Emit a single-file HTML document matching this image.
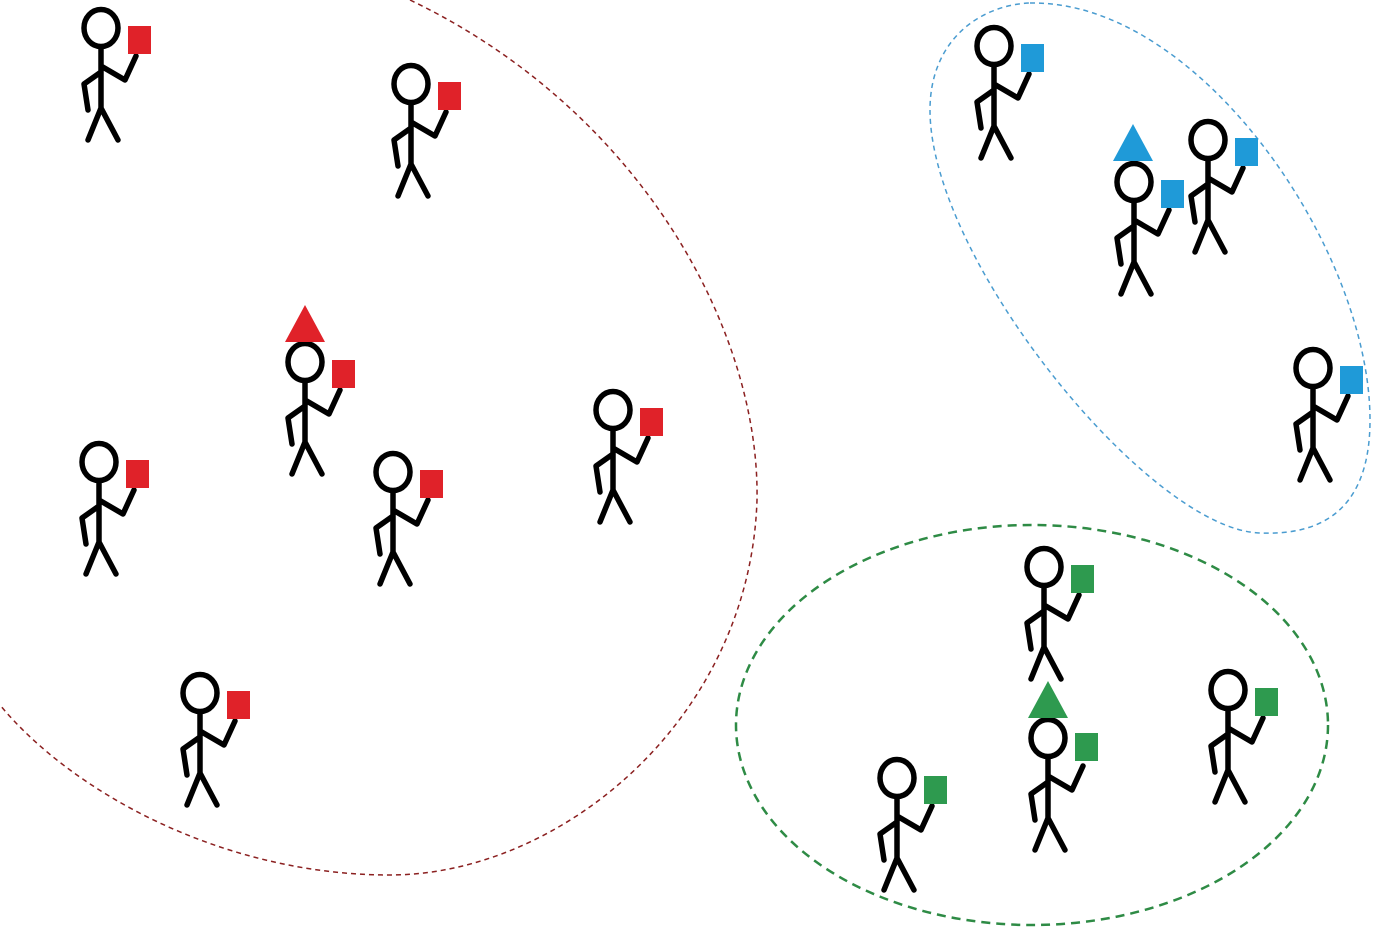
<!DOCTYPE html>
<html><head><meta charset="utf-8"><style>html,body{margin:0;padding:0;background:#fff}svg{display:block}</style></head>
<body>
<svg width="1400" height="928" viewBox="0 0 1400 928" xmlns="http://www.w3.org/2000/svg">
<defs>
<g id="man" fill="none" stroke="#000" stroke-width="5.5" stroke-linecap="round" stroke-linejoin="round">
<ellipse cx="0" cy="0" rx="17" ry="18.5"/>
<path d="M0,19 V80 M0,80 L-13,112 M0,80 L17,112 M0,38 L24,52 L35,28 M0,44 L-17,56 L-13,82"/>
</g>
</defs>
<g fill="none" stroke-dasharray="5,4" stroke-width="1.5">
<path d="M410,0 C640,110 760,330 757,500 C750,720 560,875 390,875 C220,875 70,790 0,705" stroke="#8b2020"/>
<path d="M1030,3 C1200,0 1370,250 1370,420 C1370,520 1310,535 1260,533 C1150,530 930,260 930,110 C930,40 980,5 1030,3 Z" stroke="#4a9cd0"/>
</g>
<ellipse cx="1032" cy="725" rx="296" ry="200" fill="none" stroke="#2e8b45" stroke-width="2.5" stroke-dasharray="9,6"/>
<g id="figs">
<use href="#man" x="101" y="28"/><rect x="128" y="26" width="23" height="28" fill="#e02229"/>
<use href="#man" x="411" y="84"/><rect x="438" y="82" width="23" height="28" fill="#e02229"/>
<use href="#man" x="305" y="362"/><rect x="332" y="360" width="23" height="28" fill="#e02229"/>
<polygon points="305,305 285,342 325,342" fill="#e02229"/>
<use href="#man" x="99" y="462"/><rect x="126" y="460" width="23" height="28" fill="#e02229"/>
<use href="#man" x="393" y="472"/><rect x="420" y="470" width="23" height="28" fill="#e02229"/>
<use href="#man" x="613" y="410"/><rect x="640" y="408" width="23" height="28" fill="#e02229"/>
<use href="#man" x="200" y="693"/><rect x="227" y="691" width="23" height="28" fill="#e02229"/>

<use href="#man" x="994" y="46"/><rect x="1021" y="44" width="23" height="28" fill="#1f9ad8"/>
<use href="#man" x="1134" y="182"/><rect x="1161" y="180" width="23" height="28" fill="#1f9ad8"/>
<polygon points="1133,124 1113,161 1153,161" fill="#1f9ad8"/>
<use href="#man" x="1208" y="140"/><rect x="1235" y="138" width="23" height="28" fill="#1f9ad8"/>
<use href="#man" x="1313" y="368"/><rect x="1340" y="366" width="23" height="28" fill="#1f9ad8"/>

<use href="#man" x="1044" y="567"/><rect x="1071" y="565" width="23" height="28" fill="#2e9a4f"/>
<use href="#man" x="1048" y="738"/><rect x="1075" y="733" width="23" height="28" fill="#2e9a4f"/>
<polygon points="1048,681 1028,718 1068,718" fill="#2e9a4f"/>
<use href="#man" x="1228" y="690"/><rect x="1255" y="688" width="23" height="28" fill="#2e9a4f"/>
<use href="#man" x="897" y="778"/><rect x="924" y="776" width="23" height="28" fill="#2e9a4f"/>
</g>
</svg>
</body></html>
